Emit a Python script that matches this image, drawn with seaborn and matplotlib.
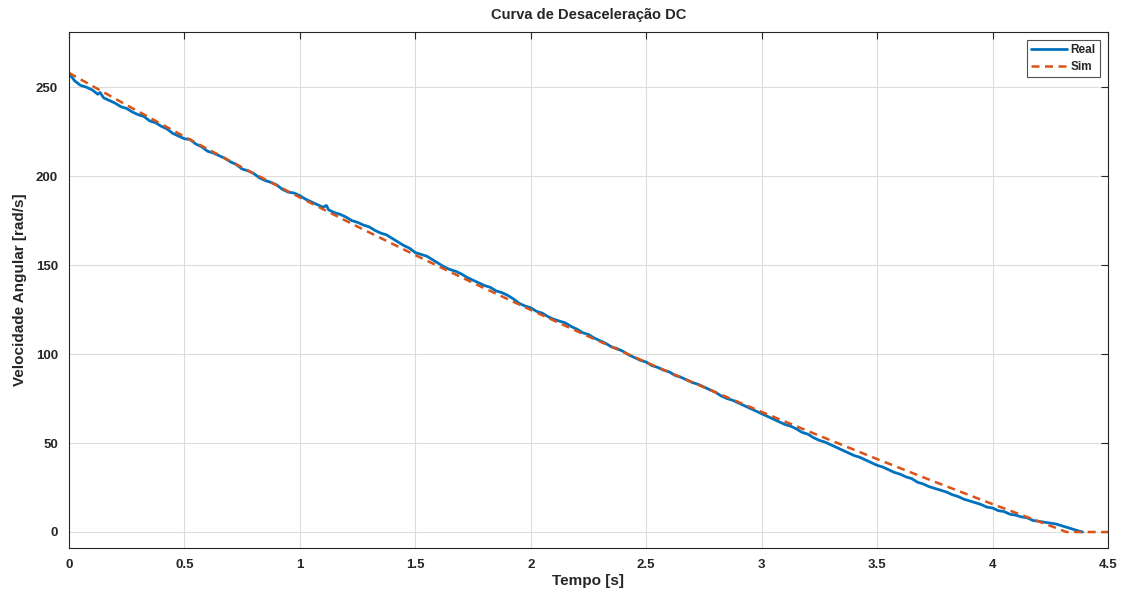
import numpy as np
import pandas as pd
import matplotlib
matplotlib.use("Agg")
import matplotlib.pyplot as plt
import seaborn as sns

t_real = [0.0, 0.01, 0.025, 0.05, 0.075, 0.1, 0.125, 0.135, 0.15, 0.175, 0.2, 0.225, 0.25, 0.275,
          0.3, 0.325, 0.35, 0.375, 0.4, 0.425, 0.45, 0.475, 0.5, 0.525, 0.55, 0.575, 0.6, 0.625,
          0.65, 0.675, 0.7, 0.725, 0.75, 0.775, 0.8, 0.825, 0.85, 0.875, 0.9, 0.925, 0.95, 0.975,
          1.0, 1.025, 1.05, 1.075, 1.1, 1.115, 1.125, 1.15, 1.175, 1.2, 1.225, 1.25, 1.275,
          1.3, 1.325, 1.35, 1.375, 1.4, 1.425, 1.45, 1.475, 1.5, 1.525, 1.55, 1.575, 1.6, 1.625,
          1.65, 1.675, 1.7, 1.725, 1.75, 1.775, 1.8, 1.825, 1.85, 1.875, 1.9, 1.925, 1.95, 1.975,
          2.0, 2.025, 2.05, 2.075, 2.1, 2.125, 2.15, 2.175, 2.2, 2.225, 2.25, 2.275, 2.3, 2.325,
          2.35, 2.375, 2.4, 2.425, 2.45, 2.475, 2.5, 2.525, 2.55, 2.575, 2.6, 2.625, 2.65, 2.675,
          2.7, 2.725, 2.75, 2.775, 2.8, 2.825, 2.85, 2.875, 2.9, 2.925, 2.95, 2.975, 3.0, 3.025,
          3.05, 3.075, 3.1, 3.125, 3.15, 3.175, 3.2, 3.225, 3.25, 3.275, 3.3, 3.325, 3.35, 3.375,
          3.4, 3.425, 3.45, 3.475, 3.5, 3.525, 3.55, 3.575, 3.6, 3.625, 3.65, 3.675, 3.7, 3.725,
          3.75, 3.775, 3.8, 3.825, 3.85, 3.875, 3.9, 3.925, 3.95, 3.975, 4.0, 4.025, 4.05, 4.075,
          4.1, 4.125, 4.15, 4.175, 4.2, 4.225, 4.25, 4.275, 4.3, 4.325, 4.35, 4.375, 4.39]
w_real = [258.0, 256.0, 253.5, 251.0, 250.0, 248.5, 246.0, 247.0, 244.0, 242.5, 241.0, 239.0, 238.0, 236.0,
          234.5, 233.5, 231.0, 230.0, 228.0, 226.5, 224.0, 222.5, 221.0, 220.5, 218.0, 216.5, 214.0, 213.0,
          211.5, 210.0, 208.0, 206.5, 204.0, 203.0, 201.5, 199.0, 197.5, 196.5, 195.0, 192.5, 191.0, 190.5,
          189.0, 187.0, 185.5, 184.0, 182.5, 183.5, 181.0, 179.5, 178.5, 177.0, 175.0, 174.0, 172.5,
          171.5, 169.5, 168.0, 167.0, 165.0, 163.0, 161.0, 159.5, 157.0, 156.0, 155.0, 153.0, 151.0, 149.0,
          147.5, 146.5, 145.0, 143.0, 141.5, 140.0, 138.5, 137.5, 135.5, 134.5, 133.0, 131.0, 128.5, 127.0,
          126.0, 124.0, 123.0, 121.0, 119.5, 118.5, 117.5, 115.5, 114.0, 112.0, 111.0, 109.0, 107.5, 106.0,
          104.0, 103.0, 101.5, 99.5, 98.0, 96.5, 95.5, 93.5, 92.5, 91.0, 90.0, 88.0, 87.0, 85.5,
          84.0, 83.0, 81.5, 80.0, 78.5, 76.5, 75.0, 74.0, 72.5, 71.0, 69.5, 68.0, 66.5, 65.0,
          63.5, 62.0, 60.5, 59.5, 58.0, 56.0, 55.0, 53.0, 51.5, 50.5, 49.0, 47.5, 46.0, 44.5,
          43.0, 42.0, 40.5, 39.0, 37.5, 36.5, 35.0, 33.5, 32.5, 31.0, 30.0, 28.0, 27.0, 25.5,
          24.5, 23.5, 22.5, 21.0, 20.0, 18.5, 17.5, 16.5, 15.5, 14.0, 13.5, 12.0, 11.5, 10.0,
          9.5, 8.5, 8.0, 6.5, 6.0, 5.5, 5.0, 4.5, 3.5, 2.5, 1.5, 0.5, 0.0]

# simulated curve (Sim)
t_sim = [0.0, 0.25, 0.5, 0.75, 1.0, 1.25, 1.5, 1.75, 2.0, 2.25, 2.5, 2.75, 3.0,
         3.25, 3.5, 3.75, 4.0, 4.25, 4.32, 4.5]
w_sim = [258.0, 239.9, 222.2, 204.9, 188.0, 171.6, 155.6, 140.0, 124.8, 109.9, 95.4, 81.3, 67.5,
         54.1, 41.0, 28.2, 15.7, 3.5, 0.0, 0.0]

x_ticks = [0, 0.5, 1, 1.5, 2, 2.5, 3, 3.5, 4, 4.5]
y_ticks = [0, 50, 100, 150, 200, 250]

sns.set_style("whitegrid")
plt.rcParams['font.family'] = ['Liberation Sans', 'DejaVu Sans']
plt.rcParams['font.weight'] = 'bold'

fig = plt.figure(figsize=(11.23, 5.92), dpi=100)
ax = fig.add_axes([0.0614, 0.0743, 0.9252, 0.8717])

df_real = pd.DataFrame({'t': t_real, 'w': w_real})
df_sim = pd.DataFrame({'t': t_sim, 'w': w_sim})

sns.lineplot(data=df_real, x='t', y='w', ax=ax, color='#0072BD', linewidth=2.0,
             estimator=None, sort=False, label='Real')
sns.lineplot(data=df_sim, x='t', y='w', ax=ax, color='#D95319', linewidth=1.8,
             estimator=None, sort=False, label='Sim', linestyle=(0, (3.2, 2.2)))

ax.set_xlim(0, 4.5)
ax.set_ylim(-9, 281)
ax.set_xticks(x_ticks)
ax.set_xticklabels([f"{v:g}" for v in x_ticks])
ax.set_yticks(y_ticks)

ax.grid(True, color='#dcdcdc', linewidth=0.8)
for s in ax.spines.values():
    s.set_color('#262626')
    s.set_linewidth(0.8)
ax.tick_params(direction='in', length=5, width=0.8, color='#262626',
               top=True, right=True, labelsize=9.5, labelcolor='#262626', pad=8)
for lab in ax.get_xticklabels() + ax.get_yticklabels():
    lab.set_fontweight('bold')

ax.set_title('Curva de Desaceleração DC', fontsize=10.5, fontweight='bold', pad=9)
ax.set_xlabel('Tempo [s]', fontsize=11, fontweight='bold', labelpad=2)
ax.set_ylabel('Velocidade Angular [rad/s]', fontsize=11, fontweight='bold', labelpad=6)

leg = ax.legend(loc='upper right', fontsize=8.5, frameon=True, fancybox=False,
                handlelength=3.0, borderpad=0.35, labelspacing=0.4, handletextpad=0.3,
                borderaxespad=0.7)
leg.get_frame().set_edgecolor('#262626')
leg.get_frame().set_linewidth(0.8)
for txt in leg.get_texts():
    txt.set_fontweight('bold')

fig.savefig('out.png', dpi=100)
